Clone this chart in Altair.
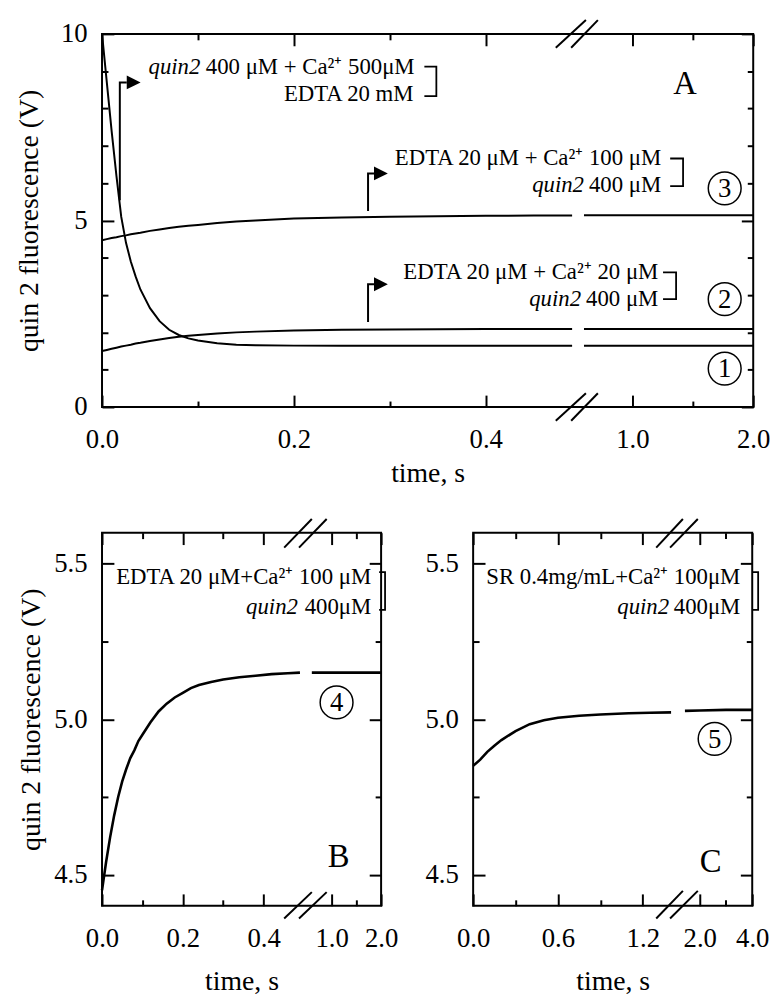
import altair as alt
import pandas as pd

FONT = "Liberation Serif"

# ---------------- Panel A data ----------------
a_t_left = [0, 0.005, 0.01, 0.015, 0.02, 0.025, 0.03, 0.035, 0.04, 0.05, 0.06, 0.07, 0.08,
            0.09, 0.10, 0.12, 0.14, 0.16, 0.20, 0.25, 0.30, 0.35, 0.40, 0.45, 0.49]
a_c1_left = [10.0, 8.7, 7.4, 6.2, 5.1, 4.4, 3.9, 3.5, 3.15, 2.65, 2.3, 2.07, 1.93,
             1.84, 1.78, 1.71, 1.67, 1.655, 1.645, 1.64, 1.64, 1.64, 1.64, 1.64, 1.64]
a_c2_left = [1.50, 1.53, 1.56, 1.59, 1.62, 1.645, 1.67, 1.70, 1.72, 1.77, 1.81, 1.85, 1.88,
             1.91, 1.93, 1.97, 2.00, 2.02, 2.05, 2.07, 2.08, 2.085, 2.09, 2.09, 2.09]
a_c3_left = [4.47, 4.50, 4.53, 4.55, 4.58, 4.60, 4.63, 4.65, 4.67, 4.72, 4.76, 4.80, 4.83,
             4.86, 4.88, 4.93, 4.97, 5.00, 5.05, 5.08, 5.10, 5.115, 5.125, 5.13, 5.13]
a_t_right = [0.6, 1.0, 1.5, 2.0]
a_c1_right = [1.64, 1.64, 1.64, 1.64]
a_c2_right = [2.09, 2.09, 2.09, 2.09]
a_c3_right = [5.14, 5.14, 5.14, 5.14]

# ---------------- Panel B data ----------------
b_t_left = [0, 0.01, 0.02, 0.03, 0.04, 0.05, 0.06, 0.07, 0.08, 0.09, 0.10, 0.12, 0.14, 0.16,
            0.18, 0.20, 0.22, 0.24, 0.27, 0.30, 0.34, 0.38, 0.42, 0.46, 0.49]
b_c4_left = [4.45, 4.54, 4.62, 4.69, 4.75, 4.80, 4.84, 4.875, 4.90, 4.93, 4.95, 4.99, 5.025,
             5.05, 5.07, 5.085, 5.10, 5.11, 5.12, 5.128, 5.135, 5.14, 5.145, 5.148, 5.15]
b_t_right = [0.6, 1.0, 1.5, 2.0]
b_c4_right = [5.15, 5.15, 5.15, 5.15]

# ---------------- Panel C data ----------------
c_t_left = [0, 0.05, 0.1, 0.15, 0.2, 0.3, 0.4, 0.5, 0.6, 0.75, 0.9, 1.1, 1.25, 1.4]
c_c5_left = [4.85, 4.87, 4.895, 4.915, 4.933, 4.962, 4.984, 4.997, 5.005, 5.011, 5.015,
             5.019, 5.021, 5.022]
c_t_right = [1.434, 2.0, 3.0, 4.0]
c_c5_right = [5.027, 5.028, 5.03, 5.03]

# ---------------- ticks ----------------
a_x_major = [0, 0.2, 0.4, 1.0, 2.0]
a_x_minor = [0.1, 0.3, 1.5]
a_y_major = [0, 5, 10]
a_y_minor = [1, 2, 3, 4, 6, 7, 8, 9]
b_x_major = [0, 0.2, 0.4, 1.0, 2.0]
b_x_minor = [0.1, 0.3, 1.5]
c_x_major = [0, 0.6, 1.2, 2.0, 4.0]
c_x_minor = [0.3, 0.9, 3.0]
bc_y_major = [4.5, 5.0, 5.5]
bc_y_minor = [4.75, 5.25]

YTITLE = "quin 2 fluorescence (V)"

# ---------------- sizes / broken scales ----------------
WA, HA = 658, 377
WB, HB = 282, 377
xsA = alt.Scale(domain=[0, 0.49, 0.6, 2.0], range=[0, 475, 487, WA], zero=False, nice=False)
ysA = alt.Scale(domain=[0, 10], zero=False, nice=False)
xsB = alt.Scale(domain=[0, 0.49, 0.6, 2.0], range=[0, 200, 212, WB], zero=False, nice=False)
xsC = alt.Scale(domain=[0, 1.40, 1.434, 4.0], range=[0, 200, 214, WB], zero=False, nice=False)
ysBC = alt.Scale(domain=[4.4, 5.6], zero=False, nice=False)


def X(xs, field="t"):
    return alt.X(f"{field}:Q", scale=xs, axis=None)


def Y(ys, field="v"):
    return alt.Y(f"{field}:Q", scale=ys, axis=None)


def curves_df(groups):
    rows = []
    for name, ts, vs in groups:
        for t, v in zip(ts, vs):
            rows.append({"grp": name, "t": t, "v": v})
    return pd.DataFrame(rows)


def curve_layer(df, xs, ys, xaxis, yaxis, width=2.0):
    return alt.Chart(df).mark_line(color="black", strokeWidth=width).encode(
        x=alt.X("t:Q", scale=xs, axis=xaxis),
        y=alt.Y("v:Q", scale=ys, axis=yaxis),
        detail="grp:N",
    )


def axis_layers(xs, ys, W, H, x0, y0, xmaj, xmin, ymaj, ymin):
    df = pd.DataFrame({"t": [x0], "v": [y0]})
    out = []
    for xo, yo in (("top", "right"), ("bottom", "left")):
        for xv, yv, ts in ((xmaj, ymaj, 12), (xmin, ymin, 6)):
            out.append(
                alt.Chart(df).mark_point(opacity=0).encode(
                    x=alt.X("t:Q", scale=xs, axis=alt.Axis(
                        orient=xo, offset=-H, values=xv, tickSize=ts, tickWidth=2,
                        tickColor="black", labels=False, domain=False, grid=False, title=None)),
                    y=alt.Y("v:Q", scale=ys, axis=alt.Axis(
                        orient=yo, offset=-W, values=yv, tickSize=ts, tickWidth=2,
                        tickColor="black", labels=False, domain=False, grid=False, title=None)),
                )
            )
    return out


def text_layer(rows, xs, ys, size, align, style="normal"):
    df = pd.DataFrame(rows, columns=["s", "t", "v"])
    return alt.Chart(df).mark_text(
        font=FONT, fontSize=size, align=align, baseline="middle", fontStyle=style, color="black"
    ).encode(x=X(xs), y=Y(ys), text="s:N")


def poly_layer(paths, xs, ys, width=2.0):
    rows = []
    for g, pts in enumerate(paths):
        for i, (t, v) in enumerate(pts):
            rows.append({"g": g, "i": i, "t": t, "v": v})
    return alt.Chart(pd.DataFrame(rows)).mark_line(color="black", strokeWidth=width).encode(
        x=X(xs), y=Y(ys), detail="g:N", order="i:Q")


def slash_layer(segs, xs, ys):
    df = pd.DataFrame(segs, columns=["t", "v", "t2", "v2"])
    return alt.Chart(df).mark_rule(color="black", strokeWidth=2).encode(
        x=X(xs), y=Y(ys), x2="t2:Q", y2="v2:Q")


def heads_layer(pts, xs, ys):
    df = pd.DataFrame(pts, columns=["t", "v"])
    return alt.Chart(df).mark_point(
        shape="M-1,-1L1,0L-1,1Z", filled=True, color="black", opacity=1, size=196
    ).encode(x=X(xs), y=Y(ys))


def circles_layer(pts, xs, ys):
    df = pd.DataFrame(pts, columns=["s", "t", "v"])
    circ = alt.Chart(df).mark_point(
        shape="circle", filled=False, color="black", strokeWidth=1.5, size=1100, opacity=1
    ).encode(x=X(xs), y=Y(ys))
    num = alt.Chart(df).mark_text(font=FONT, fontSize=27, color="black", baseline="middle",
                                  align="center", dy=1).encode(x=X(xs), y=Y(ys), text="s:N")
    return [circ, num]


label_axis_common = dict(ticks=False, tickSize=0, domain=False, grid=False, labelFlush=False,
                         labelOverlap=False)

# ---------------- Panel A ----------------
dfA = curves_df([
    ("1L", a_t_left, a_c1_left), ("2L", a_t_left, a_c2_left), ("3L", a_t_left, a_c3_left),
    ("1R", a_t_right, a_c1_right), ("2R", a_t_right, a_c2_right), ("3R", a_t_right, a_c3_right),
])
axA_x = alt.Axis(orient="bottom", values=a_x_major, format=".1f", labelPadding=20,
                 title="time, s", titlePadding=7, **label_axis_common)
axA_y = alt.Axis(orient="left", values=a_y_major, format="d", labelPadding=15,
                 title=YTITLE, titlePadding=17, **label_axis_common)

layersA = [curve_layer(dfA, xsA, ysA, axA_x, axA_y)]
layersA += axis_layers(xsA, ysA, WA, HA, 0, 0, a_x_major, a_x_minor, a_y_major, a_y_minor)
layersA += [
    text_layer([("quin2", 0.0485, 9.10)], xsA, ysA, 23, "left", "italic"),
    text_layer([("400 μM + Ca²⁺ 500μM", 0.1082, 9.10)], xsA, ysA, 23, "left"),
    text_layer([("EDTA 20 mM", 0.3247, 8.38),
                ("EDTA 20 μM + Ca²⁺ 100 μM", 1.239, 6.66),
                ("400 μM", 1.239, 5.94),
                ("EDTA 20 μM + Ca²⁺ 20 μM", 1.215, 3.61),
                ("400 μM", 1.215, 2.89)], xsA, ysA, 23, "right"),
    text_layer([("quin2", 0.6, 5.94), ("quin2", 0.5725, 2.89)], xsA, ysA, 23, "right", "italic"),
    text_layer([("A", 1.436, 8.65)], xsA, ysA, 33, "center"),
    poly_layer([
        [(0.336, 9.125), (0.3485, 9.125), (0.3485, 8.33), (0.336, 8.33)],
        [(1.313, 6.66), (1.4197, 6.66), (1.4197, 5.92), (1.313, 5.92)],
        [(1.254, 3.61), (1.362, 3.61), (1.362, 2.89), (1.254, 2.89)],
    ], xsA, ysA, 1.8),
    poly_layer([
        [(0.01856, 5.54), (0.01856, 8.70), (0.0258, 8.70)],
        [(0.2773, 5.25), (0.2773, 6.26), (0.2835, 6.26)],
        [(0.2773, 2.28), (0.2773, 3.29), (0.2835, 3.29)],
    ], xsA, ysA, 2),
    heads_layer([(0.033, 8.70), (0.2907, 6.26), (0.2907, 3.29)], xsA, ysA),
    slash_layer([(0.473, 9.63, 0.616, 10.37), (0.489, 9.63, 0.715, 10.37),
                 (0.473, -0.37, 0.616, 0.37), (0.489, -0.37, 0.715, 0.37)], xsA, ysA),
]
layersA += circles_layer([("3", 1.764, 5.86), ("2", 1.764, 2.89), ("1", 1.764, 1.03)], xsA, ysA)
panelA = alt.layer(*layersA).resolve_axis(x="independent", y="independent").properties(
    width=WA, height=HA)

# ---------------- Panel B ----------------
dfB = curves_df([("4L", b_t_left, b_c4_left), ("4R", b_t_right, b_c4_right)])
axB_x = alt.Axis(orient="bottom", values=b_x_major, format=".1f", labelPadding=20,
                 title="time, s", titlePadding=17, **label_axis_common)
axB_y = alt.Axis(orient="left", values=bc_y_major, format=".1f", labelPadding=15,
                 title=YTITLE, titlePadding=8, **label_axis_common)
layersB = [curve_layer(dfB, xsB, ysBC, axB_x, axB_y, 2.6)]
layersB += axis_layers(xsB, ysBC, WB, HB, 0, 4.4, b_x_major, b_x_minor, bc_y_major, bc_y_minor)
layersB += [
    text_layer([("EDTA 20 μM+Ca²⁺ 100 μM", 1.8, 5.457), ("400μM", 1.8, 5.362)],
               xsB, ysBC, 23, "right"),
    text_layer([("quin2", 0.485, 5.362)], xsB, ysBC, 23, "right", "italic"),
    text_layer([("B", 1.14, 4.556)], xsB, ysBC, 33, "center"),
    poly_layer([[(1.96, 5.473), (2.08, 5.473), (2.08, 5.352), (1.96, 5.352)]], xsB, ysBC, 1.8),
    slash_layer([(0.451, 5.552, 0.6, 5.644), (0.4877, 5.552, 0.9, 5.644),
                 (0.451, 4.359, 0.6, 4.444), (0.4877, 4.359, 0.9, 4.444)], xsB, ysBC),
]
layersB += circles_layer([("4", 1.1, 5.054)], xsB, ysBC)
panelB = alt.layer(*layersB).resolve_axis(x="independent", y="independent").properties(
    width=WB, height=HB)

# ---------------- Panel C ----------------
dfC = curves_df([("5L", c_t_left, c_c5_left), ("5R", c_t_right, c_c5_right)])
axC_x = alt.Axis(orient="bottom", values=c_x_major, format=".1f", labelPadding=20,
                 title="time, s", titlePadding=17, **label_axis_common)
axC_y = alt.Axis(orient="left", values=bc_y_major, format=".1f", labelPadding=15,
                 title=None, **label_axis_common)
layersC = [curve_layer(dfC, xsC, ysBC, axC_x, axC_y, 2.6)]
layersC += axis_layers(xsC, ysBC, WB, HB, 0, 4.4, c_x_major, c_x_minor, bc_y_major, bc_y_minor)
layersC += [
    text_layer([("SR 0.4mg/mL+Ca²⁺ 100μM", 3.547, 5.457), ("400μM", 3.547, 5.362)],
               xsC, ysBC, 23, "right"),
    text_layer([("quin2", 1.386, 5.362)], xsC, ysBC, 23, "right", "italic"),
    text_layer([("C", 2.415, 4.54)], xsC, ysBC, 33, "center"),
    poly_layer([[(4.0, 5.473), (4.226, 5.473), (4.226, 5.352), (4.0, 5.352)]], xsC, ysBC, 1.8),
    slash_layer([(1.295, 5.552, 1.429, 5.644), (1.393, 5.552, 1.925, 5.644),
                 (1.295, 4.359, 1.429, 4.448), (1.393, 4.359, 1.925, 4.448)], xsC, ysBC),
]
layersC += circles_layer([("5", 2.566, 4.937)], xsC, ysBC)
panelC = alt.layer(*layersC).resolve_axis(x="independent", y="independent").properties(
    width=WB, height=HB)

# Fixed-size canvas: 774 x 989 px svg inside the 8px page margin.
PAD_L, PAD_T = 95, 21
bottom = alt.hconcat(panelB, panelC, spacing=93, bounds="flush")
chart = alt.vconcat(panelA, bottom, spacing=127, bounds="flush").properties(
    autosize=alt.AutoSizeParams(type="none"),
    padding={"left": PAD_L, "top": PAD_T, "right": 774 - PAD_L, "bottom": 989 - PAD_T},
    background="white",
).configure_view(stroke="black", strokeWidth=2).configure_axis(
    labelFont=FONT, labelFontSize=27, labelColor="black",
    titleFont=FONT, titleFontSize=28, titleFontWeight="normal", titleColor="black",
)

chart.save("out.html", embed_options={"renderer": "svg", "actions": False})
